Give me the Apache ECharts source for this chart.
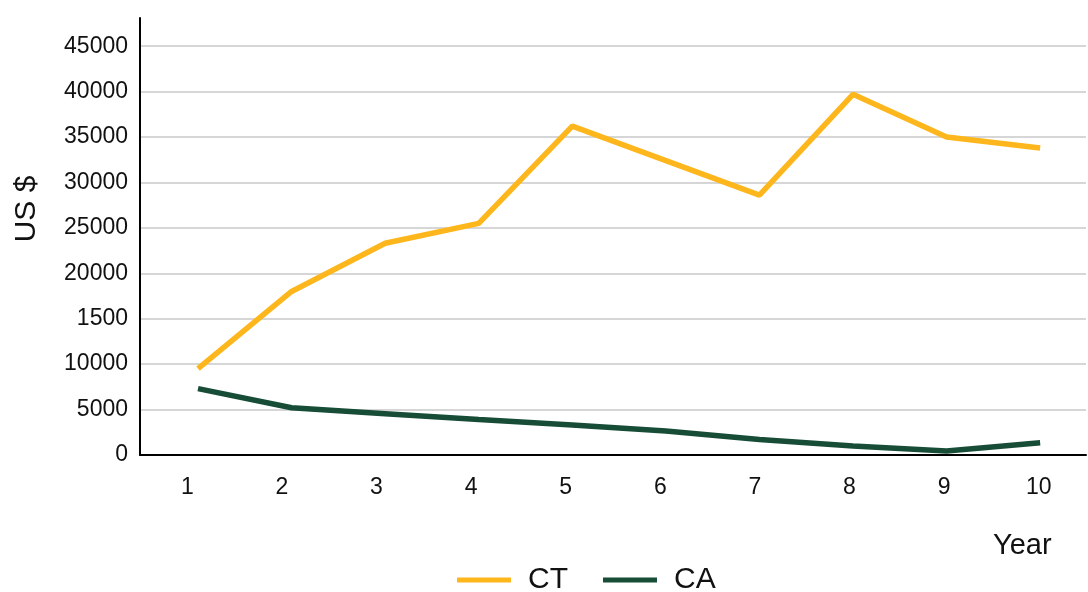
<!DOCTYPE html>
<html>
<head>
<meta charset="utf-8">
<script src="https://cdn.jsdelivr.net/npm/echarts@6/dist/echarts.min.js"></script>
<style>html,body{margin:0;padding:0;background:#fff;}#c{width:1088px;height:592px;}</style>
</head>
<body>
<div id="c"></div>
<script>
const years = ['1','2','3','4','5','6','7','8','9','10'];
const ctValues = [9500, 18000, 23300, 25500, 36200, 32400, 28600, 39700, 35000, 33800];
const caValues = [7300, 5200, 4550, 3900, 3300, 2650, 1700, 1000, 450, 1350];
const yTickLabels = ['0','5000','10000','1500','20000','25000','30000','35000','40000','45000'];
const seriesNames = ['CT', 'CA'];

const FONT = '"Liberation Sans", Arial, Helvetica, sans-serif';
const toPairs = vals => vals.map((v, i) => [Number(years[i]), v]);

const chart = echarts.init(document.getElementById('c'), null, {renderer: 'canvas'});
chart.setOption({
  animation: false,
  backgroundColor: '#fff',
  grid: {left: 140, right: 2, top: 18, bottom: 137, containLabel: false},
  xAxis: [
    {
      type: 'category',
      data: years,
      boundaryGap: true,
      axisLine: {show: true, lineStyle: {color: '#000', width: 2}},
      axisTick: {show: false},
      axisLabel: {color: '#111', fontFamily: FONT, fontSize: 23, margin: 21},
      splitLine: {show: false}
    },
    {
      type: 'value',
      show: false,
      min: 0.38,
      max: 10.49,
      splitLine: {show: false}
    }
  ],
  yAxis: {
    type: 'value',
    min: 0,
    max: 48100,
    interval: 5000,
    axisLine: {show: true, lineStyle: {color: '#000', width: 2}},
    axisTick: {show: false},
    axisLabel: {
      color: '#111', fontFamily: FONT, fontSize: 23, margin: 12,
      showMaxLabel: false,
      formatter: function (v) { const i = Math.round(v / 5000); return (v % 5000 === 0 && yTickLabels[i] !== undefined) ? yTickLabels[i] : ''; }
    },
    splitLine: {show: true, showMaxLine: false, lineStyle: {color: '#c8c8c8', width: 1.5}}
  },
  legend: {
    data: seriesNames,
    left: 452,
    top: 560,
    icon: 'rect',
    itemWidth: 54,
    itemHeight: 5,
    itemGap: 35,
    textStyle: {color: '#111', fontFamily: FONT, fontSize: 30, padding: [0, 0, 0, 12]}
  },
  graphic: [
    {type: 'text', x: 993, y: 546, style: {text: 'Year', fill: '#111', font: '29px ' + FONT, align: 'left', verticalAlign: 'middle'}},
    {type: 'text', x: 27, y: 209, rotation: Math.PI / 2, style: {text: 'US $', fill: '#111', font: '30px ' + FONT, align: 'center', verticalAlign: 'middle'}}
  ],
  series: [
    {name: seriesNames[0], type: 'line', xAxisIndex: 1, data: toPairs(ctValues), showSymbol: false, symbol: 'none',
     lineStyle: {color: '#FDB71C', width: 5.5}, itemStyle: {color: '#FDB71C'}},
    {name: seriesNames[1], type: 'line', xAxisIndex: 1, data: toPairs(caValues), showSymbol: false, symbol: 'none',
     lineStyle: {color: '#174D37', width: 5.5}, itemStyle: {color: '#174D37'}}
  ]
});
</script>
</body>
</html>
